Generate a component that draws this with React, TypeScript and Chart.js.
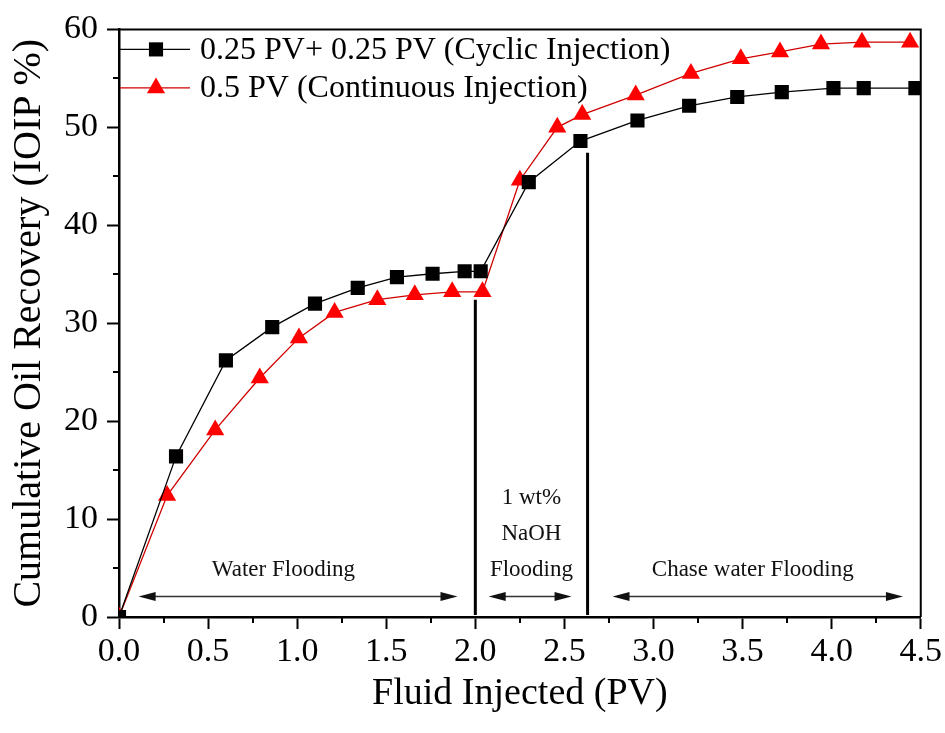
import React, { useEffect, useRef } from "react";
import { Chart, registerables } from "chart.js";

Chart.register(...registerables);

// ---------- data ----------
const cyclicLabel = "0.25 PV+ 0.25 PV (Cyclic Injection)";
const continuousLabel = "0.5 PV (Continuous Injection)";

const cyclicX = [0, 0.32, 0.6, 0.86, 1.1, 1.34, 1.56, 1.76, 1.94, 2.03, 2.3, 2.59, 2.91, 3.2, 3.47, 3.72, 4.01, 4.18, 4.47];
const cyclicY = [0, 16.4, 26.2, 29.6, 32.0, 33.6, 34.7, 35.05, 35.3, 35.3, 44.4, 48.6, 50.7, 52.2, 53.1, 53.6, 54.0, 54.0, 54.0];

const continuousX = [0, 0.27, 0.54, 0.79, 1.01, 1.21, 1.45, 1.66, 1.87, 2.04, 2.25, 2.46, 2.6, 2.9, 3.21, 3.49, 3.71, 3.94, 4.17, 4.44];
const continuousY = [0, 12.4, 19.1, 24.4, 28.5, 31.1, 32.4, 32.9, 33.2, 33.2, 44.6, 50.0, 51.3, 53.3, 55.5, 57.0, 57.7, 58.5, 58.7, 58.7];

const xTitle = "Fluid Injected (PV)";
const yTitle = "Cumulative Oil Recovery (IOIP %)";
const xMin = 0;
const xMax = 4.5;
const xStep = 0.5;
const yMin = 0;
const yMax = 60;
const yStep = 10;

// flooding stages
const phaseBoundaryX = [2.0, 2.63];
const phaseBoundaryTop = [32.4, 47.4];
const arrowFrom = [0.11, 2.075, 2.77];
const arrowTo = [1.9, 2.54, 4.4];
const arrowLevel = 2.1;
const phaseLines = [["Water Flooding"], ["1 wt%", "NaOH", "Flooding"], ["Chase water Flooding"]];
const phaseLabelX = [0.923, 2.315, 3.557];
const phaseLabelY = 4.85;

// ---------- styles ----------
const FONT = '"Liberation Serif", "Times New Roman", serif';
const RED_MARK = "#ff0000";
const RED_LINE = "#d00000";

const overlayPlugin = {
  id: "overlay",
  beforeDatasetsDraw(chart: any) {
    const { ctx, chartArea: a, scales } = chart;
    const x = scales.x;
    const y = scales.y;
    ctx.save();
    // frame (top / right)
    ctx.strokeStyle = "#000";
    ctx.lineWidth = 2;
    ctx.beginPath();
    ctx.moveTo(a.left, a.top);
    ctx.lineTo(a.right, a.top);
    ctx.lineTo(a.right, a.bottom);
    ctx.stroke();

    // minor ticks
    ctx.lineWidth = 2;
    ctx.beginPath();
    for (let v = xMin + xStep / 2; v < xMax; v += xStep) {
      const px = Math.round(x.getPixelForValue(v));
      ctx.moveTo(px, a.bottom);
      ctx.lineTo(px, a.bottom + 6);
    }
    for (let v = yMin + yStep / 2; v < yMax; v += yStep) {
      const py = Math.round(y.getPixelForValue(v));
      ctx.moveTo(a.left, py);
      ctx.lineTo(a.left - 6, py);
    }
    ctx.stroke();

    // stage boundaries
    ctx.lineWidth = 3;
    ctx.beginPath();
    phaseBoundaryX.forEach((bx, i) => {
      const px = x.getPixelForValue(bx);
      ctx.moveTo(px, y.getPixelForValue(phaseBoundaryTop[i]));
      ctx.lineTo(px, a.bottom - 2);
    });
    ctx.stroke();

    // double arrows
    const ay = y.getPixelForValue(arrowLevel);
    const headL = 17;
    const headH = 4.5;
    ctx.strokeStyle = "#333";
    ctx.fillStyle = "#111";
    ctx.lineWidth = 1.5;
    arrowFrom.forEach((f, i) => {
      const x1 = x.getPixelForValue(f);
      const x2 = x.getPixelForValue(arrowTo[i]);
      ctx.beginPath();
      ctx.moveTo(x1 + headL - 2, ay);
      ctx.lineTo(x2 - headL + 2, ay);
      ctx.stroke();
      ctx.beginPath();
      ctx.moveTo(x1, ay);
      ctx.lineTo(x1 + headL, ay - headH);
      ctx.lineTo(x1 + headL, ay + headH);
      ctx.closePath();
      ctx.fill();
      ctx.beginPath();
      ctx.moveTo(x2, ay);
      ctx.lineTo(x2 - headL, ay - headH);
      ctx.lineTo(x2 - headL, ay + headH);
      ctx.closePath();
      ctx.fill();
    });

    // stage labels
    ctx.fillStyle = "#111";
    ctx.font = `23px ${FONT}`;
    ctx.textAlign = "center";
    ctx.textBaseline = "middle";
    const baseY = y.getPixelForValue(phaseLabelY);
    phaseLines.forEach((lines, i) => {
      const px = x.getPixelForValue(phaseLabelX[i]);
      lines.forEach((t, j) => {
        const py = baseY - (lines.length - 1 - j) * 36;
        ctx.fillText(t, px, py);
      });
    });
    ctx.restore();
  },
  afterDraw(chart: any) {
    const { ctx, chartArea: a } = chart;
    ctx.save();
    chart.data.datasets.forEach((ds: any, i: number) => {
      const yy = a.top + 20 + i * 38.5;
      ctx.strokeStyle = ds.borderColor;
      ctx.lineWidth = ds.borderWidth;
      ctx.beginPath();
      ctx.moveTo(a.left + 1, yy);
      ctx.lineTo(a.left + 71, yy);
      ctx.stroke();
      const mx = a.left + 37;
      ctx.fillStyle = ds.pointBackgroundColor;
      ctx.beginPath();
      if (ds.pointStyle === "rect") {
        const s = ds.pointRadius * Math.SQRT1_2;
        ctx.rect(mx - s, yy - s, 2 * s, 2 * s);
      } else {
        const r = ds.pointRadius;
        ctx.moveTo(mx, yy - r);
        ctx.lineTo(mx + r * Math.sin((2 * Math.PI) / 3), yy + r / 2);
        ctx.lineTo(mx - r * Math.sin((2 * Math.PI) / 3), yy + r / 2);
        ctx.closePath();
      }
      ctx.fill();
      ctx.fillStyle = "#000";
      ctx.font = `32px ${FONT}`;
      ctx.textAlign = "left";
      ctx.textBaseline = "middle";
      ctx.fillText(ds.label, a.left + 81, yy + 1);
    });
    ctx.restore();
  },
};

export default function App() {
  const ref = useRef<HTMLCanvasElement>(null);
  useEffect(() => {
    document.body.style.margin = "0";
    const cyclic = cyclicX.map((v, i) => ({ x: v, y: cyclicY[i] }));
    const continuous = continuousX.map((v, i) => ({ x: v, y: continuousY[i] }));
    const chart = new Chart(ref.current as HTMLCanvasElement, {
      type: "line",
      data: {
        datasets: [
          {
            label: cyclicLabel,
            data: cyclic,
            borderColor: "#000",
            backgroundColor: "#000",
            borderWidth: 1.3,
            pointStyle: "rect",
            pointRadius: 10,
            pointBorderWidth: 0,
            pointBackgroundColor: "#000",
            pointBorderColor: "#000",
            tension: 0,
          } as any,
          {
            label: continuousLabel,
            data: continuous,
            borderColor: RED_LINE,
            backgroundColor: RED_MARK,
            borderWidth: 1.3,
            pointStyle: "triangle",
            pointRadius: 10.5,
            pointBorderWidth: 0,
            pointBackgroundColor: RED_MARK,
            pointBorderColor: RED_MARK,
            tension: 0,
          } as any,
        ],
      },
      options: {
        animation: false,
        responsive: false,
        events: [],
        layout: { padding: { top: 22, right: 22, left: 0, bottom: 0 } },
        plugins: { legend: { display: false }, tooltip: { enabled: false } },
        scales: {
          x: {
            type: "linear",
            min: xMin,
            max: xMax,
            afterFit: (s: any) => {
              s.height = 116;
            },
            ticks: {
              stepSize: xStep,
              autoSkip: false,
              maxRotation: 0,
              color: "#000",
              padding: 3,
              font: { family: FONT, size: 34 },
              callback: (v: any) => Number(v).toFixed(1),
            },
            grid: {
              display: true,
              drawOnChartArea: false,
              drawTicks: true,
              tickLength: 12,
              tickWidth: 2,
              tickColor: "#000",
            },
            border: { display: true, color: "#000", width: 2.5 },
            title: {
              display: true,
              text: xTitle,
              color: "#000",
              font: { family: FONT, size: 38, lineHeight: 1 },
              padding: { top: 0, bottom: 20 },
            },
          },
          y: {
            type: "linear",
            min: yMin,
            max: yMax,
            afterFit: (s: any) => {
              s.width = 119;
            },
            ticks: {
              stepSize: yStep,
              color: "#000",
              padding: 9,
              font: { family: FONT, size: 34 },
            },
            grid: {
              display: true,
              drawOnChartArea: false,
              drawTicks: true,
              tickLength: 12,
              tickWidth: 2,
              tickColor: "#000",
            },
            border: { display: true, color: "#000", width: 2.5 },
            title: {
              display: true,
              text: yTitle,
              color: "#000",
              font: { family: FONT, size: 40, lineHeight: 1 },
              padding: { top: 9, bottom: 0 },
            },
          },
        },
      },
      plugins: [overlayPlugin],
    });
    return () => chart.destroy();
  }, []);
  return (
    <div style={{ width: 945, height: 733 }}>
      <canvas ref={ref} width={945} height={733} style={{ display: "block" }} />
    </div>
  );
}
